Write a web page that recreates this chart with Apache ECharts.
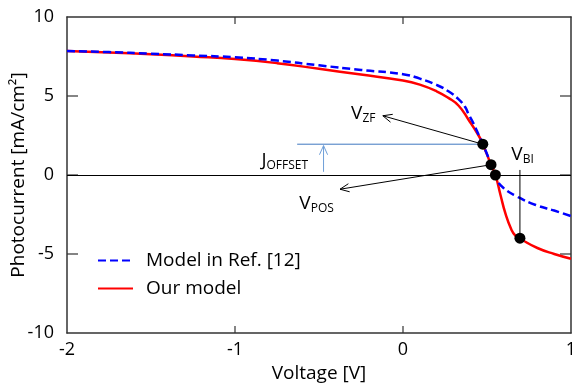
<!DOCTYPE html>
<html>
<head>
<meta charset="utf-8">
<script src="https://cdn.jsdelivr.net/npm/echarts@6/dist/echarts.min.js"></script>
<style>
  html, body { margin: 0; padding: 0; background: #fff; }
  #chart { width: 572px; height: 384px; }
</style>
</head>
<body>
<div id="chart"></div>
<script>
// Photocurrent–voltage curves (V in volts, J in mA/cm^2)
const ourModelV = [-2, -1.75, -1.5, -1.25, -1.0, -0.75, -0.5, -0.25, 0, 0.1, 0.2, 0.27, 0.33, 0.39, 0.45, 0.475, 0.524, 0.55, 0.58, 0.61, 0.645, 0.67, 0.7, 0.8, 0.9, 1.0];
const ourModelJ = [7.85, 7.76, 7.64, 7.5, 7.34, 7.08, 6.72, 6.36, 5.98, 5.72, 5.3, 4.88, 4.4, 3.5, 2.5, 1.95, 0.65, 0.0, -1.25, -2.45, -3.45, -3.85, -4.05, -4.62, -5.0, -5.3];

const refModelV = [-2, -1.75, -1.5, -1.25, -1.0, -0.75, -0.5, -0.25, 0, 0.1, 0.2, 0.27, 0.33, 0.37, 0.39, 0.42, 0.45, 0.475, 0.52, 0.56, 0.6, 0.68, 0.79, 0.9, 1.0];
const refModelJ = [7.85, 7.78, 7.68, 7.57, 7.45, 7.24, 6.94, 6.65, 6.38, 6.1, 5.7, 5.3, 4.8, 4.3, 3.85, 3.25, 2.55, 1.95, 0.8, -0.32, -0.84, -1.37, -1.9, -2.25, -2.6];

// Characteristic points: V_ZF, V_POS, zero crossing, V_BI
const markV = [0.475, 0.524, 0.55, 0.696];
const markJ = [1.95, 0.65, 0.0, -4.0];

// Annotation segments in data units: [V1, J1, V2, J2]
const arrowSegments = [
  [0.475, 1.95, -0.12, 3.75],   // towards V_ZF label
  [0.524, 0.65, -0.375, -0.9]   // towards V_POS label
];
const biSegment = [[0.696, -4.0, 0.696, 0.32]];
const offsetLevel = [[-0.63, 1.95, 0.475, 1.95]];
const offsetArrow = [[-0.473, 0.2, -0.473, 1.86]];

// Annotation labels (left edge, vertical centre) in data units
const labelMain = ['V', 'J', 'V', 'V'];
const labelSub = ['ZF', 'OFFSET', 'POS', 'BI'];
const labelV = [-0.309, -0.843, -0.617, 0.645];
const labelJ = [3.89, 0.89, -1.80, 1.30];

// Axis ticks
const xTicks = [-2, -1, 0, 1];
const yTicks = [-10, -5, 0, 5, 10];

const FONT = '"Open Sans", "Liberation Sans", sans-serif';
const X_MIN = xTicks[0], X_MAX = xTicks[xTicks.length - 1];
const Y_MIN = yTicks[0], Y_MAX = yTicks[yTicks.length - 1];

function zip(a, b) { return a.map((v, i) => [v, b[i]]); }

function segmentSeries(data, color, width, head) {
  return {
    type: 'custom',
    coordinateSystem: 'cartesian2d',
    silent: true,
    clip: false,
    z: 4,
    encode: { x: [0, 2], y: [1, 3] },
    data: data,
    renderItem: function (params, api) {
      const a = api.coord([api.value(0), api.value(1)]);
      const b = api.coord([api.value(2), api.value(3)]);
      const children = [{
        type: 'line',
        shape: { x1: a[0], y1: a[1], x2: b[0], y2: b[1] },
        style: { stroke: color, lineWidth: width }
      }];
      if (head) {
        const ang = Math.atan2(b[1] - a[1], b[0] - a[0]);
        const len = 10, spread = 0.42;
        const p1 = [b[0] - len * Math.cos(ang - spread), b[1] - len * Math.sin(ang - spread)];
        const p2 = [b[0] - len * Math.cos(ang + spread), b[1] - len * Math.sin(ang + spread)];
        children.push({
          type: 'polyline',
          shape: { points: [p1, b, p2] },
          style: { stroke: color, fill: null, lineWidth: width }
        });
      }
      return { type: 'group', children: children };
    }
  };
}

// Inward ticks on opposite frame sides: each item spans the frame [V1, J1, V2, J2]
function frameTickSeries(data, len) {
  return {
    type: 'custom',
    coordinateSystem: 'cartesian2d',
    silent: true,
    clip: false,
    z: 2,
    encode: { x: [0, 2], y: [1, 3] },
    data: data,
    renderItem: function (params, api) {
      const a = api.coord([api.value(0), api.value(1)]);
      const b = api.coord([api.value(2), api.value(3)]);
      const dx = b[0] - a[0], dy = b[1] - a[1];
      const d = Math.sqrt(dx * dx + dy * dy) || 1;
      const ux = dx / d * len, uy = dy / d * len;
      const st = { stroke: '#333', lineWidth: 1.2 };
      return { type: 'group', children: [
        { type: 'line', shape: { x1: a[0], y1: a[1], x2: a[0] + ux, y2: a[1] + uy }, style: st },
        { type: 'line', shape: { x1: b[0], y1: b[1], x2: b[0] - ux, y2: b[1] - uy }, style: st }
      ] };
    }
  };
}

const xTickSpans = xTicks.slice(1, -1).map(v => [v, Y_MIN, v, Y_MAX]);
const yTickSpans = yTicks.slice(1, -1).map(v => [X_MIN, v, X_MAX, v]);

const chart = echarts.init(document.getElementById('chart'), null, { renderer: 'canvas' });

const axisLineStyle = { color: '#333', width: 1.5 };

function frameAxis(extra) {
  return Object.assign({
    type: 'value',
    axisLine: { show: true, onZero: false, lineStyle: axisLineStyle },
    axisTick: { show: false },
    splitLine: { show: false }
  }, extra);
}

const option = {
  animation: false,
  backgroundColor: '#fff',
  textStyle: { fontFamily: FONT },
  grid: { left: 67, right: 1, top: 17, bottom: 51, containLabel: false, outerBoundsMode: 'none' },
  legend: {
    orient: 'vertical',
    left: 97,
    top: 251,
    padding: 0,
    itemWidth: 35,
    itemHeight: 14,
    itemGap: 9,
    itemStyle: { opacity: 0 },
    data: ['Model in Ref. [12]', 'Our model'],
    textStyle: { fontFamily: FONT, fontSize: 19, color: '#000', padding: [0, 0, 0, 8] }
  },
  xAxis: [
    frameAxis({
      position: 'bottom',
      min: X_MIN, max: X_MAX, interval: 1,
      name: 'Voltage [V]', nameLocation: 'middle', nameGap: 23,
      nameTextStyle: { fontFamily: FONT, fontSize: 19, color: '#000' },
      axisLabel: { fontFamily: FONT, fontSize: 18, color: '#000', margin: 8 }
    }),
    frameAxis({
      position: 'top',
      min: X_MIN, max: X_MAX, interval: 1,
      axisLabel: { show: false }
    })
  ],
  yAxis: [
    frameAxis({
      position: 'left',
      min: Y_MIN, max: Y_MAX, interval: 5,
      name: 'Photocurrent [mA/cm²]', nameLocation: 'middle', nameGap: 39,
      nameMoveOverlap: false,
      nameTextStyle: { fontFamily: FONT, fontSize: 19, color: '#000' },
      axisLabel: { fontFamily: FONT, fontSize: 18, color: '#000', margin: 13 }
    }),
    frameAxis({
      position: 'right',
      min: Y_MIN, max: Y_MAX, interval: 5,
      axisLabel: { show: false }
    })
  ],
  series: [
    {
      name: 'Our model',
      type: 'line',
      data: zip(ourModelV, ourModelJ),
      symbol: 'none',
      smooth: 0.5,
      lineStyle: { color: '#ff0000', width: 2.5 },
      itemStyle: { color: '#ff0000' },
      z: 3,
      markLine: {
        silent: true,
        symbol: 'none',
        label: { show: false },
        lineStyle: { color: '#000', width: 1, type: 'solid' },
        data: [{ yAxis: 0 }]
      }
    },
    {
      name: 'Model in Ref. [12]',
      type: 'line',
      data: zip(refModelV, refModelJ),
      symbol: 'none',
      smooth: 0.5,
      lineStyle: { color: '#0000ff', width: 2.5, type: [8, 4] },
      itemStyle: { color: '#0000ff' },
      z: 3
    },
    frameTickSeries(xTickSpans, 7),
    frameTickSeries(yTickSpans, 11),
    segmentSeries(arrowSegments, '#000', 1, true),
    segmentSeries(biSegment, '#000', 1, false),
    segmentSeries(offsetLevel, '#3f78c0', 1, false),
    segmentSeries(offsetArrow, '#6f9fd8', 1, true),
    {
      name: 'points',
      type: 'scatter',
      data: zip(markV, markJ),
      symbol: 'circle',
      symbolSize: 11,
      itemStyle: { color: '#000', opacity: 1 },
      silent: true,
      z: 6
    },
    {
      type: 'custom',
      coordinateSystem: 'cartesian2d',
      silent: true,
      clip: false,
      z: 7,
      data: zip(labelV, labelJ),
      renderItem: function (params, api) {
        const p = api.coord([api.value(0), api.value(1)]);
        const i = params.dataIndex;
        return {
          type: 'text',
          x: p[0], y: p[1],
          style: {
            text: '{m|' + labelMain[i] + '}{s|' + labelSub[i] + '}',
            align: 'left',
            verticalAlign: 'middle',
            rich: {
              m: { fontFamily: FONT, fontSize: 19, lineHeight: 24, fill: '#000', color: '#000' },
              s: { fontFamily: FONT, fontSize: 12, lineHeight: 14, padding: [10, 0, 0, 0], fill: '#000', color: '#000' }
            }
          }
        };
      }
    }
  ]
};

chart.setOption(option);
</script>
</body>
</html>
